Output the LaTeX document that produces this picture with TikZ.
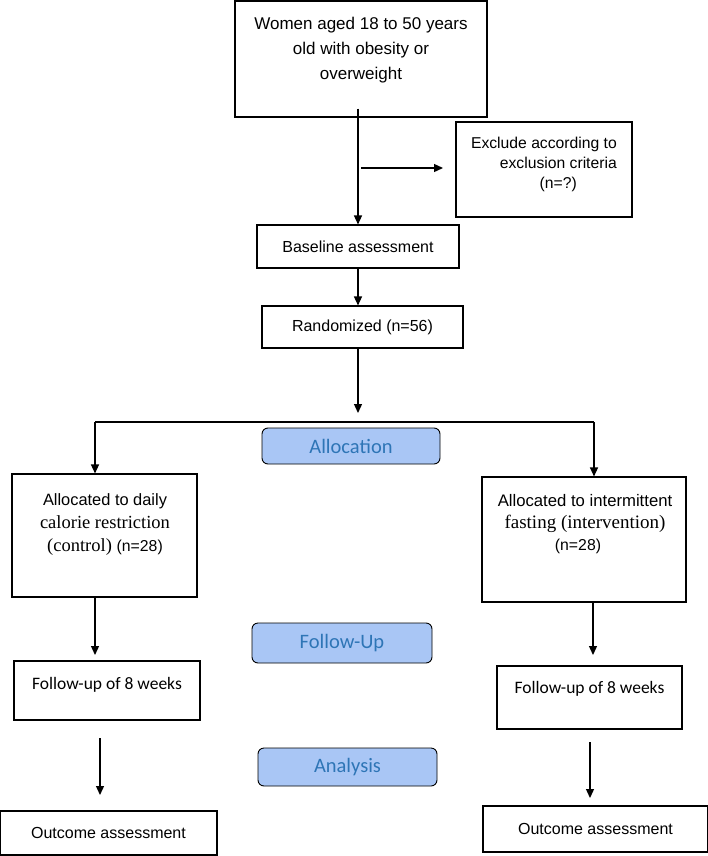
\documentclass[tikz,border=0pt]{standalone}
\usepackage{fontspec}
\setmainfont{Liberation Sans}
\newfontfamily\seriff{Liberation Serif}
\newfontfamily\calib{Carlito}
\usetikzlibrary{arrows.meta}
\definecolor{bfill}{HTML}{A9C6F5}
\definecolor{btext}{HTML}{2E75B6}
\begin{document}
\begin{tikzpicture}[x=1pt,y=-1pt,
  box/.style={draw, line width=1.1pt, inner sep=0pt},
  txt/.style={inner sep=0pt, align=center},
  arr/.style={line width=1.3pt, -{Triangle[length=9pt,width=8pt]}},
  ln/.style={line width=1.3pt},
  bluebox/.style={draw, line width=0.9pt, rounded corners=6pt, fill=bfill, inner sep=0pt,
     text=btext, font=\calib\fontsize{20.5}{24}\selectfont}]
\useasboundingbox (0,0) rectangle (708,856);
% boxes
\node[box, minimum width=252pt, minimum height=116pt] (women) at (361,59) {};
\node[txt, font=\fontsize{17}{25}\selectfont] (womenT) at (361,50) {Women aged 18 to 50 years\\old with obesity or\\overweight};
\node[box, minimum width=176pt, minimum height=95pt] (excl) at (544,169.5) {};
\node[txt, align=right, anchor=east, font=\fontsize{15.7}{20}\selectfont] (exclT) at (617,164) {Exclude according to\\exclusion criteria\\(n=?)\hspace*{40pt}};
\node[box, minimum width=202pt, minimum height=43pt, font=\fontsize{16}{19}\selectfont] (base) at (358,246.5) {Baseline assessment};
\node[box, minimum width=201pt, minimum height=42pt, font=\fontsize{16}{19}\selectfont] (rand) at (362.5,327) {Randomized (n=56)};
\node[bluebox, minimum width=178pt, minimum height=36pt] (alloc) at (351,446) {Allocation};
\node[bluebox, minimum width=180pt, minimum height=40pt] (fu) at (342,643) {Follow-Up};
\node[bluebox, minimum width=179pt, minimum height=38pt] (ana) at (347.5,767) {Analysis};
\node[box, minimum width=185pt, minimum height=123pt] (lalloc) at (104.5,535.5) {};
\node[txt, font=\fontsize{17}{23}\selectfont] (lallocT) at (105,525) {{\fontsize{16.4}{23}\selectfont Allocated to daily}\\
  {\seriff\fontsize{18.5}{23}\selectfont calorie restriction}\\
  {\seriff\fontsize{18.5}{23}\selectfont (control)} {\fontsize{15.8}{23}\selectfont (n=28)}};
\node[box, minimum width=204pt, minimum height=125pt] (ralloc) at (584,539.5) {};
\node[txt, font=\fontsize{17}{22}\selectfont] (rallocT) at (585,524) {{\fontsize{16.7}{22}\selectfont Allocated to intermittent}\\
  {\seriff\fontsize{19}{22}\selectfont fasting (intervention)}\\
  {\fontsize{15.8}{22}\selectfont (n=28)\hspace*{14pt}}};
\node[box, minimum width=186pt, minimum height=59pt] (lfu) at (107,690.5) {};
\node[txt, font=\calib\fontsize{17.5}{20}\selectfont] (lfuT) at (107,685) {Follow-up of 8 weeks};
\node[box, minimum width=185pt, minimum height=63pt] (rfu) at (589.5,697.5) {};
\node[txt, font=\calib\fontsize{17.5}{20}\selectfont] (rfuT) at (589.5,689) {Follow-up of 8 weeks};
\node[box, minimum width=217pt, minimum height=44pt, font=\fontsize{16}{19}\selectfont] (lout) at (108.5,833) {Outcome assessment};
\node[box, minimum width=225pt, minimum height=46pt, font=\fontsize{16}{19}\selectfont] (rout) at (595.5,829) {Outcome assessment};
% coordinates
\coordinate (s1) at (361,168);
\coordinate (s2) at (443,168);
\coordinate (r2) at (358,413);
\coordinate (hL) at (95,422);
\coordinate (hR) at (594,422);
\coordinate (la1) at (95,655);
\coordinate (ra1) at (593,655);
\coordinate (la2a) at (100,738);
\coordinate (la2b) at (100,795);
\coordinate (ra2a) at (590,742);
\coordinate (ra2b) at (590,798);
% connectors
\draw[arr] ([yshift=9pt]women.south -| base.north) -- (base.north);
\draw[arr] (s1) -- (s2);
\draw[arr] (base.south) -- (base.south |- rand.north);
\draw[arr] (rand.south -| base.south) -- (r2);
\draw[ln] (hL) -- (hR);
\draw[arr] (hL) -- (hL |- lalloc.north);
\draw[arr] (hR) -- (hR |- ralloc.north);
\draw[arr] (lalloc.south -| la1) -- (la1);
\draw[arr] (ralloc.south -| ra1) -- (ra1);
\draw[arr] (la2a) -- (la2b);
\draw[arr] (ra2a) -- (ra2b);
\end{tikzpicture}
\end{document}
